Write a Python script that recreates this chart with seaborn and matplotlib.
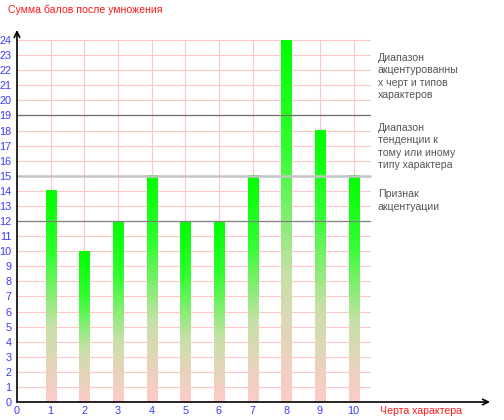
import numpy as np
import pandas as pd
import matplotlib
matplotlib.use("Agg")
import matplotlib.pyplot as plt
from matplotlib.colors import LinearSegmentedColormap
import seaborn as sns

# Data
traits = [1, 2, 3, 4, 5, 6, 7, 8, 9, 10]
scores = [14, 10, 12, 15, 12, 12, 15, 24, 18, 15]
x_ticks = list(range(0, 11))
y_ticks = list(range(0, 25))
threshold_lines = [12, 15, 19]
zone_labels = [
    "Диапазон\nакцентурованны\nх черт и типов\nхарактеров",
    "Диапазон\nтенденции к\nтому или иному\nтипу характера",
    "Признак\nакцентуации",
]
zone_label_y = [23.15, 18.5, 14.1]
y_title = "Сумма балов после умножения"
x_title = "Черта характера"

TICK_BLUE = "#3a3aff"
TITLE_RED = "#ff1a1a"
GRID_PINK = "#ffc8c8"


def draw_gradient_bars(ax, bars):
    """Replace flat bar fills with a pink-to-green vertical gradient."""
    cmap = LinearSegmentedColormap.from_list(
        "bar_grad",
        [(0.0, "#ffcaca"), (0.35, "#c8e0a8"), (0.7, "#30ff30"), (1.0, "#00ff00")],
    )
    grad = np.linspace(0, 1, 256).reshape(-1, 1)
    for patch in bars:
        x0, y0 = patch.get_x(), patch.get_y()
        w, h = patch.get_width(), patch.get_height()
        patch.set_facecolor("none")
        patch.set_edgecolor("none")
        ax.imshow(grad, cmap=cmap, origin="lower", aspect="auto",
                  extent=(x0, x0 + w, y0, y0 + h), zorder=2)


fig = plt.figure(figsize=(5.04, 4.2), dpi=100)
sns.set_style("white")
plt.rcParams["font.family"] = ["Liberation Sans", "DejaVu Sans"]

# axes placed in pixel terms: x=0 at 17px, y=0 at 402px from top
ax = fig.add_axes([17 / 504, 18 / 420, 473 / 504, 372 / 420])

df = pd.DataFrame({"trait": traits, "score": scores})
sns.barplot(data=df, x="trait", y="score", native_scale=True, width=0.3,
            color="#00ff00", ax=ax, zorder=2)
draw_gradient_bars(ax, list(ax.patches))

ax.set_xlim(0, 14.05)
ax.set_ylim(0, 24.67)

# pink grid limited to the data region
for yv in y_ticks[1:]:
    ax.plot([0, 10.5], [yv, yv], color=GRID_PINK, lw=0.8, zorder=1)
for xv in x_ticks[1:]:
    ax.plot([xv, xv], [0, 24], color=GRID_PINK, lw=0.8, zorder=1)

# threshold lines
ax.plot([0, 10.5], [threshold_lines[0]] * 2, color="#808080", lw=0.9, zorder=3)
ax.plot([0, 10.5], [threshold_lines[1]] * 2, color="#c4c4c4", lw=1.8, zorder=3)
ax.plot([0, 10.5], [threshold_lines[2]] * 2, color="#707070", lw=0.9, zorder=3)

for label, yv in zip(zone_labels, zone_label_y):
    ax.text(10.72, yv, label, ha="left", va="top", fontsize=7.6,
            color="#555555", linespacing=1.3)

# axes with arrowheads
for side in ["top", "right", "left", "bottom"]:
    ax.spines[side].set_visible(False)
ax.annotate("", xy=(1.0, 0), xycoords="axes fraction", xytext=(0, 0),
            arrowprops=dict(arrowstyle="->", color="black", lw=1.2,
                            shrinkA=0, shrinkB=0))
ax.annotate("", xy=(0, 1.0), xycoords="axes fraction", xytext=(0, 0),
            arrowprops=dict(arrowstyle="->", color="black", lw=1.2,
                            shrinkA=0, shrinkB=0))

ax.set_xticks(x_ticks)
ax.set_yticks(y_ticks)
ax.set_xticklabels([str(v) for v in x_ticks])
ax.set_yticklabels([str(v) for v in y_ticks])
ax.tick_params(axis="both", length=0, labelsize=7.8, colors=TICK_BLUE)
ax.tick_params(axis="x", pad=3)
ax.tick_params(axis="y", pad=4)
ax.set_xlabel("")
ax.set_ylabel("")

fig.text(8 / 504, 1 - 10 / 420, y_title, color=TITLE_RED, fontsize=7.6,
         ha="left", va="center")
fig.text(380 / 504, 1 - 411 / 420, x_title, color=TITLE_RED, fontsize=7.6,
         ha="left", va="center")

fig.savefig("out.png", dpi=100)
plt.close(fig)
